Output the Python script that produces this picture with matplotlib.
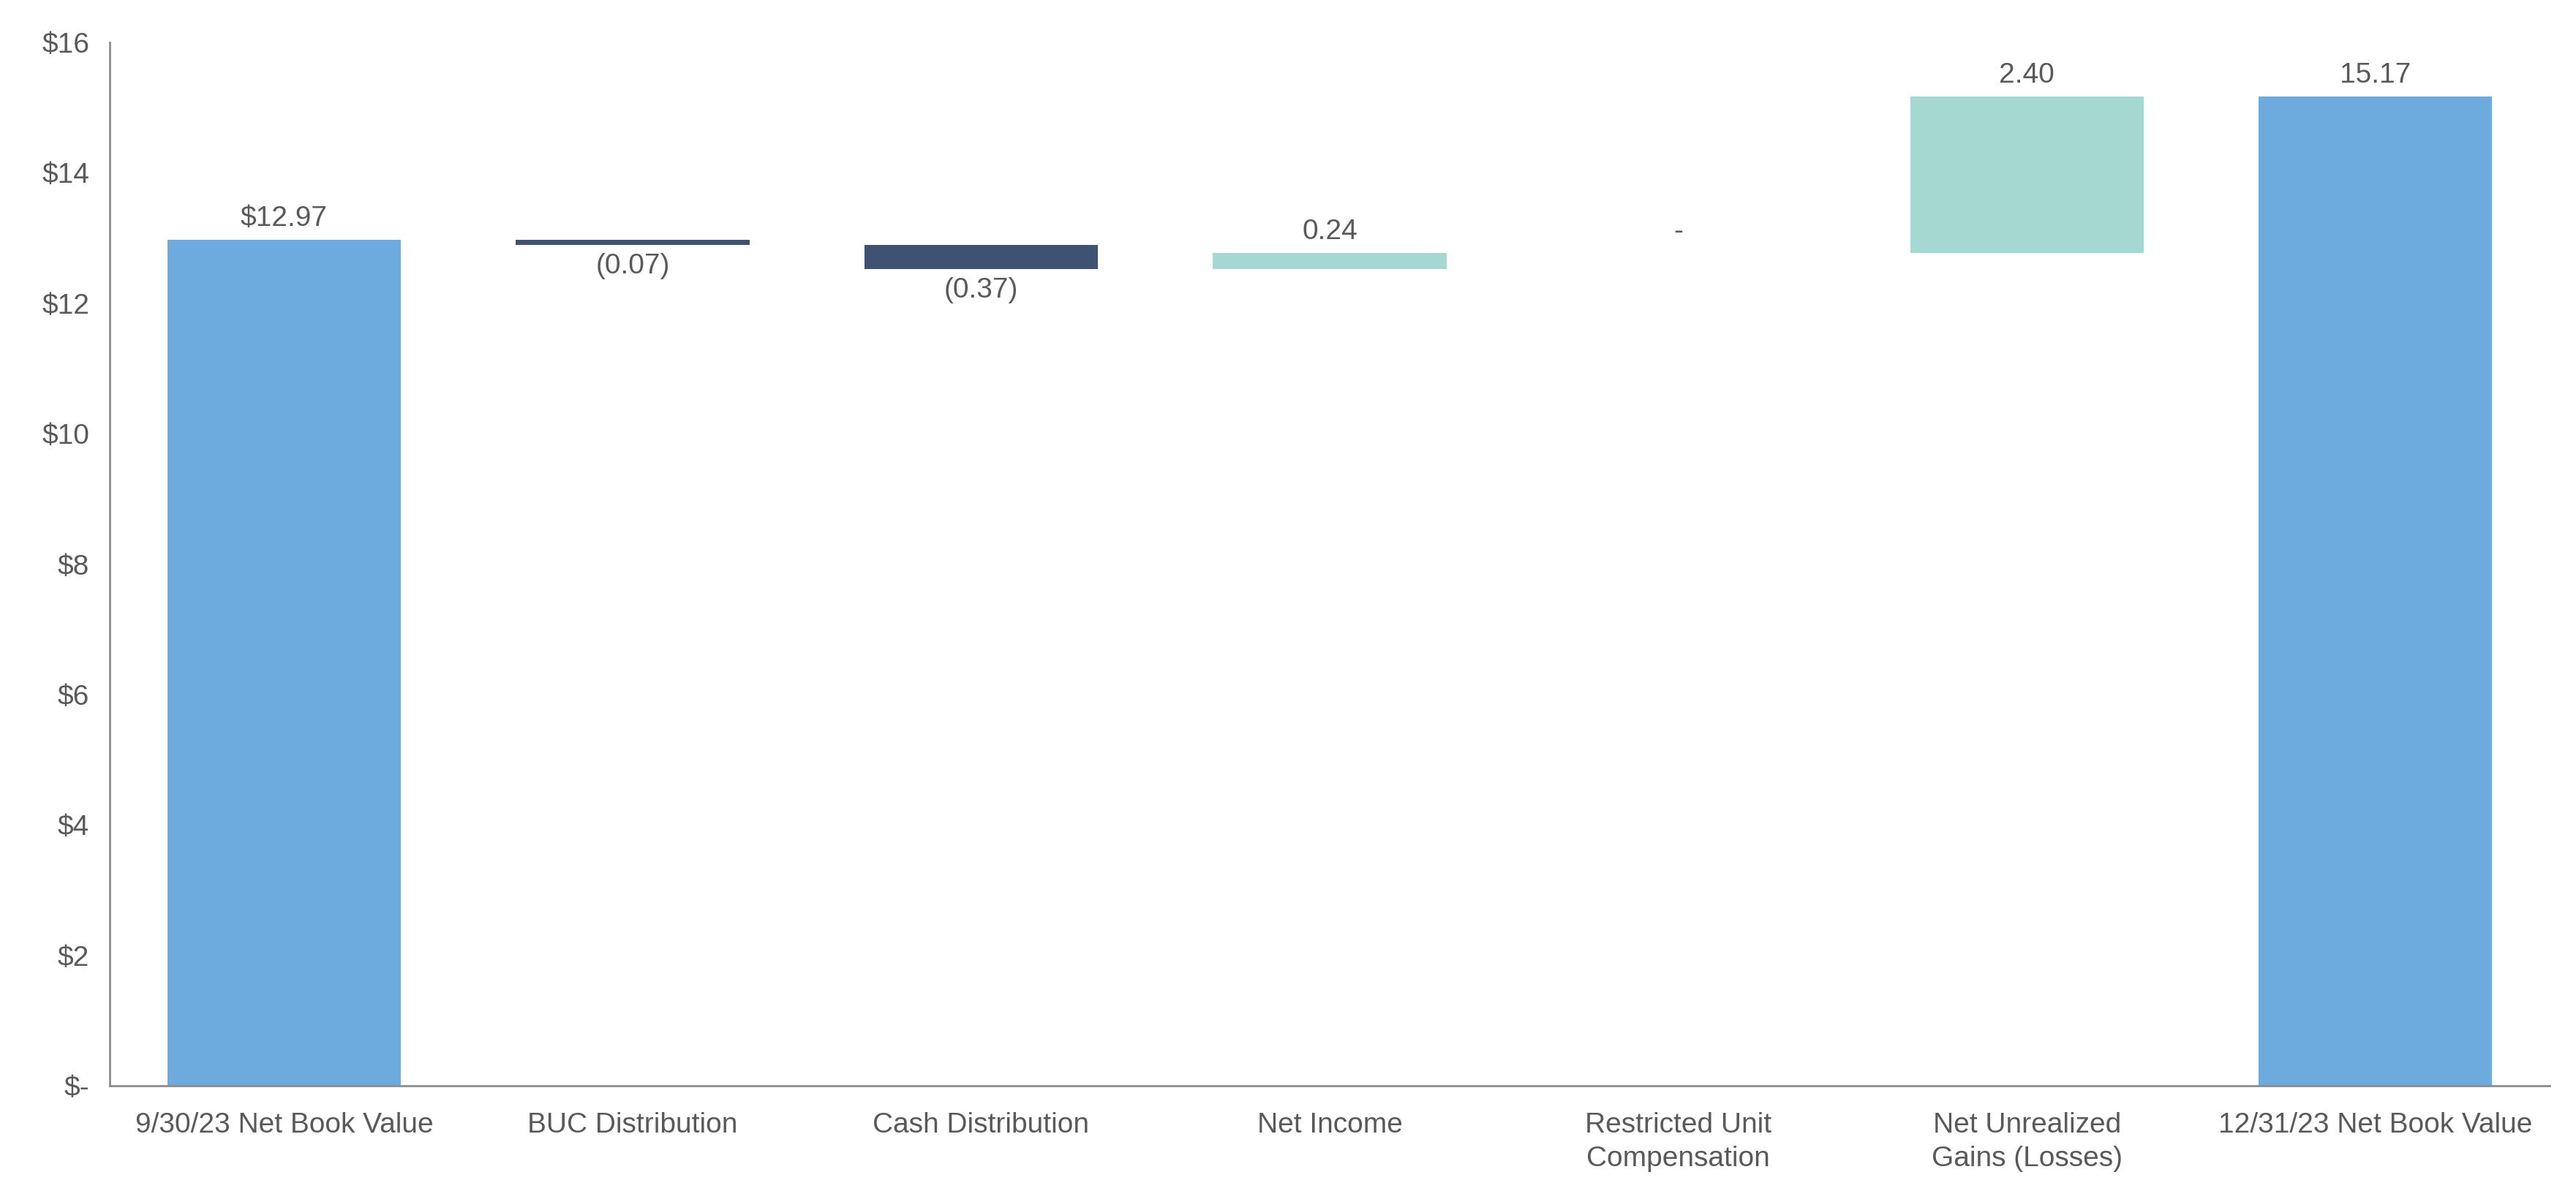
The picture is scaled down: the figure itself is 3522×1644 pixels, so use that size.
import matplotlib
matplotlib.use("Agg")
import matplotlib.pyplot as plt
import numpy as np

categories = ["9/30/23 Net Book Value", "BUC Distribution", "Cash Distribution",
              "Net Income", "Restricted Unit\nCompensation",
              "Net Unrealized\nGains (Losses)", "12/31/23 Net Book Value"]
start_value = 12.97
changes = [-0.07, -0.37, 0.24, 0.00, 2.40]
end_value = 15.17
labels = ["$12.97", "(0.07)", "(0.37)", "0.24", "-", "2.40", "15.17"]
yticks = [0, 2, 4, 6, 8, 10, 12, 14, 16]
yticklabels = ["$-", "$2", "$4", "$6", "$8", "$10", "$12", "$14", "$16"]

C_TOTAL = "#6DAADD"
C_NEG = "#3F5273"
C_POS = "#A4D8D0"
TXT = "#595959"
SPINE = "#8C8C8C"

plt.rcParams['font.family'] = ['Liberation Sans', 'DejaVu Sans']
fig = plt.figure(figsize=(35.22, 16.44), dpi=100)
ax = fig.add_axes([0.0426, 0.0967, 0.9472, 0.8680])

x = np.arange(len(categories))
w = 0.67
fs = 28

# totals
ax.bar(x[0], start_value, width=w, color=C_TOTAL)
ax.bar(x[-1], end_value, width=w, color=C_TOTAL)
ax.annotate(labels[0], (x[0], start_value), xytext=(0, 8), textcoords="offset points",
            ha="center", va="bottom", fontsize=fs, color=TXT)
ax.annotate(labels[-1], (x[-1], end_value), xytext=(0, 8), textcoords="offset points",
            ha="center", va="bottom", fontsize=fs, color=TXT)

running = start_value
for i, ch in enumerate(changes, start=1):
    new = running + ch
    lo, hi = min(running, new), max(running, new)
    if ch < 0:
        ax.bar(x[i], hi - lo, bottom=lo, width=w, color=C_NEG)
        ax.annotate(labels[i], (x[i], lo), xytext=(0, -8), textcoords="offset points",
                    ha="center", va="top", fontsize=fs, color=TXT)
    else:
        if ch > 0:
            ax.bar(x[i], hi - lo, bottom=lo, width=w, color=C_POS)
        ax.annotate(labels[i], (x[i], hi), xytext=(0, 8), textcoords="offset points",
                    ha="center", va="bottom", fontsize=fs, color=TXT)
    running = new

ax.set_xlim(-0.5, len(categories) - 0.5)
ax.set_ylim(0, 16)
ax.set_yticks(yticks)
ax.set_yticklabels(yticklabels)
ax.set_xticks(x)
ax.set_xticklabels(categories, linespacing=1.35)
ax.tick_params(axis="both", length=0, labelsize=fs, colors=TXT)
ax.tick_params(axis="x", pad=26)
ax.tick_params(axis="y", pad=20)
for s in ["top", "right"]:
    ax.spines[s].set_visible(False)
for s in ["left", "bottom"]:
    ax.spines[s].set_color(SPINE)
    ax.spines[s].set_linewidth(2)

fig.savefig("out.png", dpi=100, facecolor="white")
